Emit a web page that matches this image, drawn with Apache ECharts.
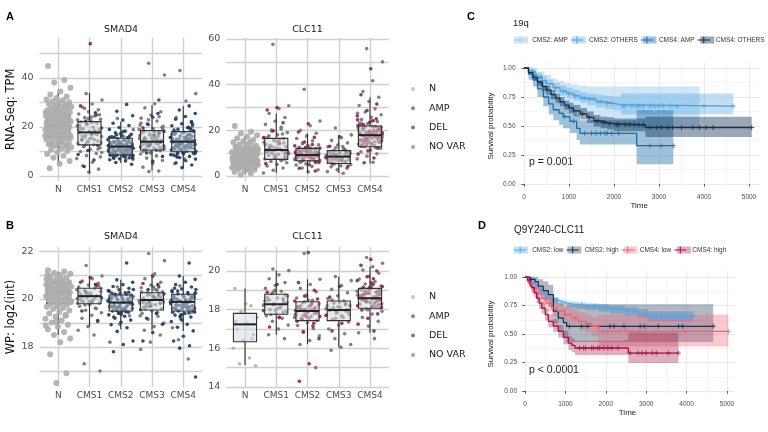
<!DOCTYPE html>
<html><head><meta charset="utf-8">
<script src="https://cdn.jsdelivr.net/npm/echarts@6/dist/echarts.min.js"></script>
<style>html,body{margin:0;padding:0;background:#fff}#c{width:768px;height:432px}</style>
</head><body><div id="c"></div>
<script>
// ---------- categories / labels ----------
const cats = ['N','CMS1','CMS2','CMS3','CMS4'];
const statusNames = ['N','AMP','DEL','NO VAR'];

// ---------- box stats [lower whisker, Q1, median, Q3, upper whisker] ----------
const boxA1 = [[5.3,16,20.5,25,35],[1.1,12.7,17.8,22.2,34],[5.3,8.6,12.0,15.4,22.2],[2.2,10.6,14.0,18.5,29],[3.2,9.9,14.0,18.1,28.6]];
const boxA2 = [[0.8,5.5,8.0,10.5,17.5],[1.3,7.3,11.4,16.5,27.4],[1.3,6.7,9.2,12.1,18.7],[1.3,5.5,8.5,11.1,18.0],[5.5,12.8,17.9,21.9,34.5]];
const boxB1 = [[18.5,19.8,20.3,20.7,21.14],[18.85,19.8,20.12,20.45,20.96],[18.74,19.5,19.85,20.17,20.8],[18.7,19.54,19.96,20.26,21.05],[18.67,19.5,19.88,20.2,20.96]];
const boxB2 = [[15.14,16.34,17.24,17.81,19.1],[16.69,17.76,18.28,18.8,20.02],[16.22,17.43,17.93,18.41,19.57],[16.05,17.43,17.98,18.45,19.71],[16.8,18.07,18.59,19.1,20.22]];

// ---------- A: SMAD4 RNA-Seq TPM points ----------
const aSmadN = [44.9,39.2,38.1,36.0,34.5,33.2,32.4,31.8,31.2,30.9,30.5,30.1,29.8,29.4,29.0,28.7,28.3,28.0,27.7,27.4,27.1,26.8,26.5,26.2,25.9,25.6,25.3,25.0,24.8,24.5,24.2,23.9,23.6,23.4,23.1,22.8,22.5,22.3,22.0,21.7,21.5,21.2,20.9,20.7,20.4,20.1,19.9,19.6,19.3,19.1,18.8,18.5,18.3,18.0,17.7,17.4,17.1,16.8,16.5,16.2,15.9,15.6,15.3,15.0,14.6,14.2,13.8,13.4,13.0,12.6,12.2,11.7,11.2,10.7,10.2,9.6,9.0,8.3,7.4,6.1,5.0,3.2,28.5,27.2,26.0,24.7,23.3,22.1,20.8,19.5,18.2,16.9,15.7,14.4,13.1,11.9,25.4,21.9,17.6,12.8,29.2,26.6,24.0,21.4,19.0,16.4,14.0,23.7,20.2,17.9];
const aSmadC1nv = [33.6,31.0,29.4,28.1,27.0,26.2,25.3,24.5,23.8,23.1,22.6,22.0,21.5,21.0,20.4,19.9,19.3,18.8,18.2,17.7,17.2,16.6,16.1,15.5,15.0,14.4,13.9,13.3,12.8,12.2,11.5,10.8,10.0,9.2,8.3,7.1,5.6,4.2,2.8,1.5,20.7,18.5,15.8,13.6,24.0,19.1,16.9,14.2,22.9,18.0,12.0,25.0,15.2,20.1,17.4,13.0,9.6,21.8,16.3,11.0,23.4,18.9,14.8,27.6,7.8];
const aSmadC1del = [25.8,22.3,19.6,17.0,14.7,12.5,10.4,8.8,6.5,3.9];
const aSmadC1amp = [54.0,28.6,24.9,21.2];
const aSmadC2del = [29.2,26.4,24.6,22.8,21.5,20.6,19.8,19.0,18.3,17.6,17.0,16.5,16.0,15.6,15.2,14.8,14.5,14.1,13.8,13.5,13.2,12.9,12.6,12.3,12.0,11.7,11.4,11.1,10.8,10.5,10.2,9.9,9.6,9.3,9.0,8.7,8.4,8.1,7.8,7.4,7.0,6.6,6.1,5.5,4.8,13.0,11.5,10.0,14.2,12.4,9.4,15.9,8.8,11.9,13.6,10.6,16.8,7.6,12.7,10.9,14.9,13.3,12.1,11.0,9.8,8.9,10.4,12.8,13.9,15.1,11.3,9.1,7.2,16.3,14.0,12.5,10.7,8.3,13.1,11.8,9.7,15.5,12.2,10.1,14.6,13.7,11.6,17.3,8.6,12.9,10.3,6.9,18.1,9.2,11.2,13.4,15.8,7.9,12.0,10.8];
const aSmadC2nv = [23.5,18.9,16.2,14.0,12.1,10.3,8.5,6.8];
const aSmadC3nv = [46.0,41.2,29.5,27.8,26.2,24.9,23.6,22.4,21.3,20.3,19.4,18.6,17.8,17.1,16.4,15.8,15.2,14.6,14.0,13.5,13.0,12.5,12.0,11.4,10.9,10.3,9.7,9.0,8.2,7.3,6.3,5.1,3.6,2.0,1.8,19.0,16.0,13.2,11.2,15.5,17.5,14.9,13.7,12.3,15.1,18.1,11.7,16.7,20.8,13.4,10.6,19.8,14.3,12.8,16.2,22.9,11.0,17.9,15.7,13.9,9.4,21.6,14.6,12.1,18.9,16.5,10.1,24.2,13.1,15.3];
const aSmadC3del = [25.5,21.0,18.2,16.7,15.0,13.8,12.8,11.8,10.6,9.4,8.0,6.0,14.3,17.4,12.2];
const aSmadC3amp = [24.0,19.7,31.0];
const aSmadC4del = [28.6,26.9,25.5,24.3,23.2,22.2,21.3,20.5,19.7,19.0,18.4,17.8,17.3,16.8,16.3,15.8,15.4,15.0,14.6,14.2,13.8,13.4,13.0,12.6,12.2,11.8,11.4,11.0,10.6,10.2,9.8,9.4,9.0,8.5,8.0,7.5,6.9,6.2,5.4,4.5,3.4,17.0,14.8,12.9,11.2,15.6,10.9,19.3,13.6,8.7,16.0,12.1,20.9,9.6,14.4,11.6,15.1,13.1,11.3,17.6,12.4,10.5,14.1,16.6,9.2,13.9,11.9,18.7,15.3,12.7,10.1,14.9,8.2,16.2,13.3,11.1,19.9,12.0,14.5,9.9,17.1,13.6,10.8,15.7,12.3,7.7,18.2,14.0,11.5,16.9,13.0,9.4,15.0,12.8,21.8,10.4];
const aSmadC4nv = [43.0,33.6,30.6,23.8,20.0,17.5,15.2,13.2,11.0,9.0,7.0,5.0,18.8];

// ---------- A: CLC11 RNA-Seq TPM points ----------
const aClcN = [21.9,19.4,18.6,17.9,17.2,16.5,15.9,15.3,14.8,14.3,13.8,13.4,13.0,12.6,12.2,11.9,11.6,11.3,11.0,10.7,10.4,10.1,9.9,9.6,9.4,9.1,8.9,8.7,8.4,8.2,8.0,7.8,7.6,7.4,7.2,7.0,6.8,6.6,6.4,6.2,6.0,5.8,5.6,5.4,5.2,5.0,4.8,4.6,4.3,4.0,3.7,3.4,3.1,2.7,2.3,1.8,1.2,0.6,12.4,10.9,9.7,8.6,7.5,6.5,5.5,4.4,11.6,9.2,7.9,6.9,5.9,4.9,13.6,10.3,8.1,6.1,3.8,14.9,9.0,7.1,5.3,8.4,6.7,10.6,7.7,2.9,12.0,4.1,9.5,6.3,8.8,7.3,9.8,6.6,10.1,5.7,8.3,7.0,11.2,4.7,9.3,6.0,12.8,7.9,5.1,10.5,8.6,3.5,11.8,6.9];
const aClcC1nv = [57.7,30.8,29.5,27.4,25.6,24.0,22.6,21.3,20.1,19.0,18.0,17.1,16.3,15.5,14.8,14.1,13.4,12.8,12.2,11.6,11.1,10.6,10.0,9.5,9.0,8.5,8.0,7.5,7.0,6.4,5.8,5.1,4.4,3.5,2.5,1.3,15.9,12.5,10.3,8.8,13.7,6.8,19.6,11.0,12.0,10.8,14.4,9.2,16.7,11.8,13.0,8.1,15.2,10.4,18.4,12.7,9.9,14.0,17.6,7.3,11.3,13.8,20.6,10.1];
const aClcC1amp = [30.0,28.9,23.3,19.8,16.8,14.5,12.0,9.8,7.7,5.4];
const aClcC2nv = [38.0,24.1,22.0,20.0,18.7,17.5,16.4,15.4,14.5,13.7,12.9,12.2,11.6,11.0,10.5,10.0,9.5,9.0,8.6,8.2,7.8,7.4,7.0,6.6,6.2,5.8,5.3,4.8,4.2,3.5,2.7,1.8,11.3,9.8,8.4,7.2,10.7,6.0,9.3,8.8,10.2,7.6,11.4,9.7,8.3,12.6,10.9,9.0,7.9,11.8,8.5,10.4,13.5,9.6,8.0,11.1,6.8,10.6,9.1,12.1,8.7,7.3,10.0,14.1,9.4,11.6,8.2,6.4];
const aClcC2amp = [22.9,19.3,16.9,14.9,13.2,11.9,10.8,9.9,9.2,8.4,7.6,6.8,5.9,4.9,3.4,2.2,12.5,10.2,8.0,9.6,8.7,10.5,11.4,7.9,9.0,12.2,8.3,10.0,6.4,11.0,9.4,13.8,7.1,8.9];
const aClcC3nv = [21.0,18.0,16.8,15.6,14.5,13.6,12.8,12.0,11.3,10.7,10.1,9.6,9.1,8.6,8.2,7.8,7.4,7.0,6.6,6.2,5.8,5.4,5.0,4.5,4.0,3.4,2.7,1.9,1.2,9.9,8.4,7.1,10.4,6.4,12.4,8.8,7.6,9.3,10.3,6.9,8.0,11.7,7.2,9.8,8.4,6.0,10.8,7.9,9.0,12.9,5.2,8.6,10.0,7.4,9.5];
const aClcC3amp = [17.2,13.0,11.0,9.4,8.0,6.8,5.6,4.2];
const aClcC4nv = [55.8,50.0,41.7,37.0,34.5,32.6,30.9,29.4,28.0,26.8,25.7,24.7,23.8,22.9,22.1,21.4,20.7,20.0,19.4,18.8,18.2,17.6,17.0,16.4,15.8,15.2,14.6,14.0,13.4,12.8,12.1,11.4,10.6,9.7,8.7,7.5,6.0,20.2,17.3,14.9,23.2,12.5,19.0,16.1,21.8,17.8,19.6,16.7,21.1,18.5,15.5,20.4,17.1,22.6,19.2,16.0,18.0,24.2,14.3,20.8,17.4,19.9,15.0,21.5,18.7,13.6,23.0,16.4,19.0,27.5];
const aClcC4amp = [47.0,35.6,31.5,28.7,26.3,24.2,22.5,21.0,19.7,18.5,17.4,16.3,15.3,14.3,13.3,12.2,11.0,9.6,7.9,5.8,20.4,17.9,15.7,25.0,13.8,18.9,18.1,20.9,16.8,19.3,22.0,17.2,15.1,21.3,18.6,13.0,20.0,16.0,24.6,19.8,17.6,14.7,23.5,18.3,21.7,16.5];

// ---------- B: SMAD4 WP log2(int) points ----------
const bSmadN = [21.2,21.15,21.1,21.05,21.0,20.95,20.9,20.86,20.82,20.78,20.74,20.7,20.66,20.62,20.58,20.55,20.52,20.49,20.46,20.43,20.4,20.37,20.34,20.31,20.28,20.25,20.22,20.19,20.16,20.13,20.1,20.07,20.04,20.01,19.98,19.95,19.92,19.88,19.84,19.8,19.76,19.72,19.68,19.63,19.58,19.52,19.46,19.4,19.33,19.26,19.18,19.1,19.02,18.93,18.84,18.74,18.62,18.5,18.35,18.2,17.7,16.9,16.5,20.6,20.45,20.3,20.15,20.0,20.85,20.5,20.2,19.9,20.7,20.35,20.05,19.7,21.0,20.55,20.25,19.95,20.65,20.38,19.3,19.05,18.9,20.8,20.42,20.12,19.86,20.58,20.28];
const bSmadC1nv = [21.4,20.96,20.85,20.75,20.66,20.58,20.5,20.43,20.37,20.31,20.25,20.19,20.13,20.07,20.01,19.95,19.89,19.83,19.77,19.7,19.62,19.53,19.43,19.32,19.2,19.05,18.85,18.7,18.5,17.3,17.0,20.2,20.0,19.6,20.2,20.4,19.95,20.1,20.55,19.88,20.3,20.05,19.75,20.45,20.15,19.92,20.62,20.25,19.82];
const bSmadC1del = [20.6,20.3,20.05,19.85,19.5,19.1];
const bSmadC1amp = [20.9,20.7,20.55];
const bSmadC2del = [21.5,20.8,20.7,20.6,20.52,20.45,20.38,20.32,20.26,20.2,20.15,20.1,20.05,20.0,19.96,19.92,19.88,19.84,19.8,19.76,19.72,19.68,19.64,19.6,19.55,19.5,19.45,19.4,19.34,19.28,19.2,19.12,19.03,18.93,18.8,18.65,18.25,18.1,17.8,19.9,19.7,20.03,19.58,20.12,19.82,19.48,20.24,19.94,19.66,20.35,19.86,19.74,20.08,19.62,19.95,20.18,19.52,19.78,20.02,19.69,20.28,19.43,19.9,19.57,20.14,19.81,19.36,20.05,19.73,19.98,20.4,19.6,19.25,19.88,20.22,19.66,19.47,20.1,19.76,19.93];
const bSmadC2nv = [20.5,20.1,19.85,19.6,19.3,18.95,18.2];
const bSmadC3nv = [21.9,21.6,21.05,20.85,20.7,20.58,20.47,20.37,20.28,20.2,20.12,20.04,19.97,19.9,19.83,19.76,19.68,19.6,19.5,19.4,19.28,19.15,19.0,18.85,18.7,18.5,18.2,17.9,20.0,19.8,20.3,20.1,19.85,20.24,19.7,19.93,20.4,19.58,20.06,19.78,20.3,19.45,20.16,19.88,20.5,19.65,19.98,20.2,19.3,20.02,19.75];
const bSmadC3del = [20.6,20.4,20.22,20.08,19.95,19.82,19.7,19.55,19.4,19.2,18.95,18.6,18.25,20.15,19.88];
const bSmadC3amp = [20.95,20.65,20.5];
const bSmadC4del = [21.5,20.96,20.82,20.7,20.6,20.5,20.42,20.34,20.27,20.2,20.14,20.08,20.02,19.97,19.92,19.87,19.82,19.77,19.72,19.67,19.62,19.57,19.52,19.46,19.4,19.33,19.25,19.16,19.06,18.95,18.82,18.67,18.45,18.25,18.05,17.95,16.75,19.95,19.75,20.1,19.6,20.3,19.85,19.5,20.05,19.7,20.45,19.9,19.3,19.8,19.64,20.0,19.55,20.16,19.9,19.42,19.73,20.25,19.85,19.6,20.07,19.35,19.96,19.7,20.33,19.52,19.82,20.12,19.67,19.27,20.4,19.88,19.58,20.03,19.78,19.45,20.19,19.93,19.62];
const bSmadC4nv = [20.55,20.25,19.98,19.72,19.45,19.1,18.8,17.5,18.3];

// ---------- B: CLC11 WP log2(int) points ----------
const bClcN = [19.1,18.2,17.9,17.6,17.3,17.0,16.7,16.4,16.0,15.5,15.2,15.1,18.3,17.4,16.5];
const bClcC1nv = [20.1,20.02,19.8,19.6,19.4,19.25,19.1,18.95,18.82,18.7,18.6,18.5,18.4,18.3,18.2,18.1,18.0,17.9,17.8,17.68,17.55,17.4,17.2,17.0,16.7,16.5,19.0,18.45,18.15,17.75,18.35,18.05,18.62,17.85,18.9,18.25,17.6,18.5,18.75,17.95];
const bClcC1amp = [19.3,18.9,18.55,18.25,17.95,17.6,17.1];
const bClcC2nv = [20.9,19.57,19.3,19.1,18.92,18.75,18.6,18.48,18.36,18.25,18.15,18.05,17.95,17.85,17.75,17.65,17.55,17.44,17.32,17.18,17.02,16.85,16.65,16.4,16.2,15.0,18.0,17.7,18.3,17.5,17.9,18.5,18.1,17.8,18.4,17.6,17.98,18.2,17.45,18.7,17.88,18.02,17.7,18.32,17.55,18.12,17.92];
const bClcC2amp = [20.95,19.4,19.0,18.7,18.45,18.22,18.02,17.82,17.62,17.4,17.15,16.85,16.5,15.2,14.3,18.1,17.7,17.95,18.3,17.5,18.55,17.85,18.15,17.3,18.0,17.65];
const bClcC3nv = [19.71,19.5,19.25,19.05,18.88,18.72,18.58,18.45,18.33,18.22,18.12,18.02,17.92,17.82,17.72,17.62,17.5,17.36,17.2,17.0,16.75,16.5,16.2,16.05,15.9,18.0,17.85,18.2,17.6,18.1,17.75,18.38,17.95,18.25,17.55,18.05,17.68,18.5,17.88,18.15];
const bClcC3amp = [19.2,18.65,18.3,17.95,17.7,17.3,16.9];
const bClcC4nv = [20.7,20.4,20.22,20.05,19.88,19.72,19.58,19.45,19.33,19.22,19.12,19.02,18.93,18.84,18.75,18.66,18.57,18.48,18.38,18.28,18.17,18.05,17.92,17.77,17.6,17.4,17.15,16.8,16.5,18.6,18.9,18.35,19.05,18.7,18.45,18.95,18.2,18.8,18.55,19.15,18.3,18.62,18.85,18.12,19.25,18.5,18.72,18.0];
const bClcC4amp = [20.6,20.3,20.0,19.7,19.5,19.32,19.16,19.0,18.86,18.72,18.58,18.44,18.3,18.15,17.98,17.78,17.55,17.25,16.9,18.8,18.5,19.1,18.65,18.9,18.4,19.2,18.55,18.75,18.25,19.05,18.6,18.35,18.95,18.1,19.4,18.7,18.45,18.85,18.2,19.6,18.52,18.78];

// ---------- C: 19q Kaplan-Meier (time, survival, CI low, CI high, censor times) ----------
const cNames = ['CMS2: AMP','CMS2: OTHERS','CMS4: AMP','CMS4: OTHERS'];
const c1T = [0,150,300,450,600,750,900,1050,1200,1400,1600,1800,2000,2400,3900];
const c1S = [1,.95,.90,.86,.82,.79,.76,.74,.72,.70,.68,.66,.645,.64,.64];
const c1L = [1,.89,.83,.78,.73,.69,.65,.62,.59,.56,.53,.51,.49,.48,.48];
const c1H = [1,1,.97,.94,.91,.89,.87,.86,.85,.84,.84,.84,.84,.84,.84];
const c1C = [1300,2050,2900,3900];
const c2T = [0,100,250,400,500,650,800,950,1100,1250,1400,1600,1800,2000,2150,4650];
const c2S = [1,.97,.93,.89,.865,.83,.80,.78,.76,.74,.73,.71,.695,.685,.672,.672];
const c2L = [1,.95,.90,.86,.83,.79,.76,.74,.72,.70,.68,.66,.645,.635,.60,.60];
const c2H = [1,.99,.96,.93,.90,.87,.85,.83,.81,.79,.78,.77,.76,.755,.78,.78];
const c2C = [700,880,1000,1150,1300,1350,1450,1550,1650,1720,1850,1950,2200,2250,2400,2500,2560,2650,2800,2900,3000,3100,3250,3400,4000,4650];
const c3T = [0,100,200,300,430,550,650,780,870,1020,1170,1244,2504,3318];
const c3S = [1,.95,.90,.82,.75,.69,.64,.61,.58,.54,.48,.437,.33,.33];
const c3L = [1,.90,.84,.75,.67,.60,.55,.51,.48,.44,.38,.34,.17,.17];
const c3H = [1,.99,.96,.89,.83,.78,.74,.71,.68,.64,.59,.55,.64,.64];
const c3C = [900,1100,1350,1500,1600,1700,1800,1850,1950,2100,2800,3050,3318];
const c4T = [0,100,200,300,400,500,600,700,800,900,1000,1100,1250,1400,1550,1700,1850,2000,2700,5060];
const c4S = [1,.96,.92,.88,.84,.81,.77,.74,.71,.68,.655,.63,.605,.575,.545,.53,.52,.51,.487,.487];
const c4L = [1,.94,.89,.85,.80,.77,.73,.70,.67,.64,.61,.585,.555,.525,.495,.48,.47,.455,.405,.405];
const c4H = [1,.98,.95,.92,.88,.85,.81,.78,.75,.72,.70,.68,.655,.625,.595,.58,.575,.565,.58,.58];
const c4C = [1300,1450,1600,1650,1750,1800,1900,2050,2100,2250,2350,2450,2550,2650,2800,2950,3050,3200,3300,3500,3750,3900,4050,4200,5060];

// ---------- D: Q9Y240-CLC11 Kaplan-Meier ----------
const dNames = ['CMS2: low','CMS2: high','CMS4: low','CMS4: high'];
const d1T = [0,80,160,250,330,420,500,580,660,750,850,950,1050,1155,1300,1500,1815,2100,2475,2800,3052,4166];
const d1S = [1,.975,.95,.925,.89,.865,.845,.82,.80,.79,.78,.77,.765,.757,.75,.74,.728,.715,.70,.68,.655,.655];
const d1L = [1,.96,.93,.90,.865,.84,.82,.795,.775,.765,.755,.745,.74,.73,.72,.71,.695,.68,.665,.64,.61,.61];
const d1H = [1,.99,.97,.95,.915,.89,.87,.845,.825,.815,.805,.795,.79,.785,.78,.77,.76,.75,.735,.72,.70,.70];
const d1C = [1300,1400,1550,1700,1900,2000,2200,2350,2550,2700,2900,3100,3250,3400,3550,3700,3850,4000,4166];
const d2T = [0,120,250,330,450,578,701,825,950,1031,4660];
const d2S = [1,.98,.96,.92,.88,.845,.70,.64,.60,.567,.567];
const d2L = [1,.94,.90,.84,.79,.74,.59,.52,.47,.43,.43];
const d2H = [1,1,1,.98,.96,.93,.82,.77,.74,.76,.76];
const d2C = [150,1100,1400,1550,2100,2200,2450,2850,2950,3300,3800,3900,4660];
const d3T = [0,80,165,290,412,530,660,800,990,1150,1320,1500,1650,1815,5033];
const d3S = [1,.95,.90,.86,.816,.77,.728,.70,.67,.64,.61,.59,.567,.523,.523];
const d3L = [1,.91,.85,.80,.75,.70,.66,.63,.59,.56,.53,.51,.48,.39,.39];
const d3H = [1,.99,.95,.92,.88,.84,.80,.77,.75,.72,.69,.67,.65,.67,.67];
const d3C = [620,1000,1250,1600,1900,1950,2050,2150,2250,2350,2500,2650,2800,3000,3200,3650,3950,5033];
const d4T = [0,60,120,165,230,289,350,412,500,578,700,825,950,1073,1160,1238,2475,2558,3795];
const d4S = [1,.97,.94,.91,.86,.816,.77,.728,.67,.61,.57,.523,.47,.42,.40,.377,.377,.333,.333];
const d4L = [1,.95,.91,.87,.82,.77,.72,.68,.62,.56,.52,.47,.41,.36,.34,.315,.315,.245,.245];
const d4H = [1,.99,.97,.95,.90,.86,.82,.78,.72,.67,.63,.58,.53,.48,.46,.44,.45,.51,.51];
const d4C = [1350,1450,1500,1650,1700,1800,1850,1950,2050,2150,2300,2600,2800,2900,3000,3150,3250,3550,3795];

const kmXTicks = [0,1000,2000,3000,4000,5000];
const kmXMinor = [500,1500,2500,3500,4500];
const kmYTicks = [0,0.25,0.5,0.75,1];
const kmYMinor = [0.125,0.375,0.625,0.875];

// ---------- styles ----------
const FA = 'DejaVu Sans', FC = 'Liberation Sans';
const ptColor = {'N':'#adadad','AMP':'#9c1d48','DEL':'#1d3b60','NO VAR':'#727272'};
const legColor = {'N':'#bdbdbd','AMP':'#a8677a','DEL':'#666e7e','NO VAR':'#999ca4'};
const cLine = ['#a6d2f0','#4aa0e0','#1b6ea8','#0f2d4d'];
const cBand = ['rgba(140,195,235,0.42)','rgba(74,160,224,0.35)','rgba(27,110,168,0.42)','rgba(15,45,77,0.42)'];
const dLine = ['#4da9ee','#1b2f4e','#ee6272','#a51240'];
const dBand = ['rgba(77,169,238,0.35)','rgba(40,62,95,0.36)','rgba(238,98,114,0.34)','rgba(165,18,64,0.34)'];
const plusSym = 'path://M4,0H6V4H10V6H6V10H4V6H0V4H4Z';
const legLine = 'path://M0,4.4H14V5.6H0Z M6.4,1H7.6V9H6.4Z';

const panelDefs = [
  {box:boxA1, y:[-2.04,56.5], lines:[0,10,20,30,40,50], labels:[0,20,40], nUnder:true, nSize:6, name:'RNA-Seq: TPM',
   pts:{'N':[[1,aSmadN]],'NO VAR':[[2,aSmadC1nv],[3,aSmadC2nv],[4,aSmadC3nv],[5,aSmadC4nv]],'DEL':[[2,aSmadC1del],[3,aSmadC2del],[4,aSmadC3del],[5,aSmadC4del]],'AMP':[[2,aSmadC1amp],[4,aSmadC3amp]]}},
  {box:boxA2, y:[-2.19,60.66], lines:[0,10,20,30,40,50,60], labels:[0,20,40,60], nUnder:true, nSize:6, name:'',
   pts:{'N':[[1,aClcN]],'NO VAR':[[2,aClcC1nv],[3,aClcC2nv],[4,aClcC3nv],[5,aClcC4nv]],'AMP':[[2,aClcC1amp],[3,aClcC2amp],[4,aClcC3amp],[5,aClcC4amp]]}},
  {box:boxB1, y:[16.33,22.17], lines:[17,18,19,20,21,22], labels:[18,20,22], nUnder:true, nSize:6, name:'WP: log2(int)',
   pts:{'N':[[1,bSmadN]],'NO VAR':[[2,bSmadC1nv],[3,bSmadC2nv],[4,bSmadC3nv],[5,bSmadC4nv]],'DEL':[[2,bSmadC1del],[3,bSmadC2del],[4,bSmadC3del],[5,bSmadC4del]],'AMP':[[2,bSmadC1amp],[4,bSmadC3amp]]}},
  {box:boxB2, y:[14.0,21.24], lines:[14,15,16,17,18,19,20,21], labels:[14,16,18,20], nUnder:false, nSize:3.5, name:'',
   pts:{'N':[[1,bClcN]],'NO VAR':[[2,bClcC1nv],[3,bClcC2nv],[4,bClcC3nv],[5,bClcC4nv]],'AMP':[[2,bClcC1amp],[3,bClcC2amp],[4,bClcC3amp],[5,bClcC4amp]]}}
];
const grids = [
  {left:39.5, top:37.5, width:162.5, height:143.5},
  {left:226.25, top:37.5, width:162.5, height:143.5},
  {left:39.5, top:247, width:162.5, height:140},
  {left:226.25, top:247, width:162.5, height:140},
  {left:518.6, top:62.2, width:241.2, height:127.6},
  {left:520, top:271.3, width:215, height:125.4}
];

function jitter(k, seed, w){ const f = (k*0.6180339887 + seed) % 1; return (f - 0.5) * w; }
function stepAt(T, S, t){ let v = S[0]; for (let i = 0; i < T.length; i++) if (T[i] <= t) v = S[i]; return v; }

function renderBox(params, api){
  const x = api.value(0);
  const lo = api.coord([x, api.value(1)]), q1 = api.coord([x, api.value(2)]), md = api.coord([x, api.value(3)]), q3 = api.coord([x, api.value(4)]), hi = api.coord([x, api.value(5)]);
  const hw = api.size([0.74, 0])[0] / 2;
  const st = {stroke:'#333333', lineWidth:1.1};
  return {type:'group', children:[
    {type:'line', shape:{x1:lo[0], y1:lo[1], x2:q1[0], y2:q1[1]}, style:st},
    {type:'line', shape:{x1:q3[0], y1:q3[1], x2:hi[0], y2:hi[1]}, style:st},
    {type:'rect', shape:{x:q3[0]-hw, y:q3[1], width:hw*2, height:q1[1]-q3[1]}, style:{fill:'rgba(212,218,224,0.5)', stroke:'#333333', lineWidth:1.1}},
    {type:'line', shape:{x1:md[0]-hw, y1:md[1], x2:md[0]+hw, y2:md[1]}, style:{stroke:'#222222', lineWidth:2}}
  ]};
}
function bandRender(color){
  return function(params, api){
    if (params.dataIndexInside !== 0) return;
    const n = params.dataInsideLength, up = [], dn = [];
    for (let i = 0; i < n; i++){
      const t0 = api.value(0, i), t1 = i < n-1 ? api.value(0, i+1) : t0;
      up.push(api.coord([t0, api.value(2, i)]), api.coord([t1, api.value(2, i)]));
      dn.push(api.coord([t0, api.value(1, i)]), api.coord([t1, api.value(1, i)]));
    }
    return {type:'polygon', shape:{points: up.concat(dn.reverse())}, style:{fill:color}};
  };
}

const series = [], xAxis = [], yAxis = [];
const axisTxt = {color:'#4d4d4d', fontFamily:FA};
panelDefs.forEach((p, pi) => {
  xAxis.push({type:'value', gridIndex:pi, min:0.4, max:5.6, axisLine:{show:false}, axisTick:{show:false, customValues:[1,2,3,4,5]},
    splitLine:{show:true, lineStyle:{color:'#d0d0d0', width:1.4}},
    axisLabel:Object.assign({customValues:[1,2,3,4,5], formatter:v => cats[Math.round(v)-1], fontSize:9, margin:4}, axisTxt)});
  yAxis.push({type:'value', gridIndex:pi, min:p.y[0], max:p.y[1], name:p.name, nameLocation:'middle', nameGap:21,
    nameTextStyle:{fontFamily:FA, fontSize:11.5, color:'#111'},
    axisLine:{show:false}, axisTick:{show:false, customValues:p.lines},
    splitLine:{show:true, lineStyle:{color:'#d0d0d0', width:1.4}},
    axisLabel:Object.assign({customValues:p.labels, fontSize:9.5, margin:6}, axisTxt)});
  const boxData = p.box.map((b, i) => [i+1].concat(b));
  series.push({type:'custom', xAxisIndex:pi, yAxisIndex:pi, z:1, silent:true, renderItem:renderBox, encode:{x:0, y:[1,2,3,4,5]}, data: p.nUnder ? boxData.slice(0,1) : []});
  const seeds = {'N':0.11,'NO VAR':0.37,'DEL':0.73,'AMP':0.53};
  ['N','NO VAR','DEL','AMP'].forEach(st => {
    const data = [];
    (p.pts[st] || []).forEach(([x, arr]) => arr.forEach((v, k) => data.push([x + jitter(k, seeds[st], x === 1 ? 0.84 : 0.82), v])));
    series.push({type:'scatter', name:st, xAxisIndex:pi, yAxisIndex:pi, data, symbolSize: st === 'N' ? p.nSize : 3.6,
      itemStyle:{color:ptColor[st], opacity:0.9}, z:2, silent:true});
  });
  series.push({type:'custom', xAxisIndex:pi, yAxisIndex:pi, z:3, silent:true, renderItem:renderBox, encode:{x:0, y:[1,2,3,4,5]}, data: p.nUnder ? boxData.slice(1) : boxData});
});

// KM axes: main (labels/ticks/major grid) + minor (minor grid only)
function kmAxes(gi, xmin, xmax, nameGapY){
  const lbl = {color:'#4d4d4d', fontFamily:FC, fontSize:6.5};
  xAxis.push({type:'value', gridIndex:gi, min:xmin, max:xmax, name:'Time', nameLocation:'middle', nameGap:12,
    nameTextStyle:{fontFamily:FC, fontSize:8, color:'#222'}, axisLine:{show:false},
    axisTick:{show:true, length:2.5, customValues:kmXTicks, lineStyle:{color:'#333', width:0.8}},
    splitLine:{show:true, lineStyle:{color:'#e4e4e4', width:0.8}},
    axisLabel:Object.assign({customValues:kmXTicks, formatter:v => String(Math.round(v)), margin:4}, lbl)});
  xAxis.push({type:'value', gridIndex:gi, min:xmin, max:xmax, axisLine:{show:false}, axisLabel:{show:false},
    axisTick:{show:false, customValues:kmXMinor}, splitLine:{show:true, lineStyle:{color:'#f0f0f0', width:0.6}}});
  yAxis.push({type:'value', gridIndex:gi, min:-0.05, max:1.05, name:'Survival probability', nameLocation:'middle', nameGap:nameGapY,
    nameTextStyle:{fontFamily:FC, fontSize:8, color:'#222'}, axisLine:{show:false},
    axisTick:{show:true, length:2.5, customValues:kmYTicks, lineStyle:{color:'#333', width:0.8}},
    splitLine:{show:true, lineStyle:{color:'#e4e4e4', width:0.8}},
    axisLabel:Object.assign({customValues:kmYTicks, formatter:v => v.toFixed(2), margin:3}, lbl)});
  yAxis.push({type:'value', gridIndex:gi, min:-0.05, max:1.05, axisLine:{show:false}, axisLabel:{show:false},
    axisTick:{show:false, customValues:kmYMinor}, splitLine:{show:true, lineStyle:{color:'#f0f0f0', width:0.6}}});
}
kmAxes(4, -120, 5240, 24);
kmAxes(5, -124, 5198, 25);

function addKM(ax, names, curves, lines, bands){
  curves.forEach((c, i) => {
    series.push({type:'custom', name:names[i] + '\u200b', xAxisIndex:ax, yAxisIndex:ax, z:1, silent:true,
      renderItem:bandRender(bands[i]), encode:{x:0, y:[1,2]}, data:c[0].map((t, k) => [t, c[2][k], c[3][k]])});
  });
  curves.forEach((c, i) => {
    series.push({type:'line', name:names[i], xAxisIndex:ax, yAxisIndex:ax, z:3, silent:true, step:'end', showSymbol:false, symbol:'none',
      data:c[0].map((t, k) => [t, c[1][k]]), lineStyle:{color:lines[i], width:1.3}, itemStyle:{color:lines[i]}});
  });
  curves.forEach((c, i) => {
    series.push({type:'scatter', name:names[i], xAxisIndex:ax, yAxisIndex:ax, z:4, silent:true, symbol:plusSym, symbolSize:5,
      data:c[4].map(t => [t, stepAt(c[0], c[1], t)]), itemStyle:{color:lines[i]}});
  });
}
addKM(4, cNames, [[c1T,c1S,c1L,c1H,c1C],[c2T,c2S,c2L,c2H,c2C],[c3T,c3S,c3L,c3H,c3C],[c4T,c4S,c4L,c4H,c4C]], cLine, cBand);
addKM(6, dNames, [[d1T,d1S,d1L,d1H,d1C],[d2T,d2S,d2L,d2H,d2C],[d3T,d3S,d3L,d3H,d3C],[d4T,d4S,d4L,d4H,d4C]], dLine, dBand);

function statusLegend(top){
  return {left:411, top, orient:'vertical', padding:0, icon:'circle', itemWidth:12, itemHeight:4, itemGap:7.3, selectedMode:false,
    textStyle:{fontFamily:FA, fontSize:9.5, color:'#1a1a1a', lineHeight:12, padding:[0,0,0,5]},
    data: statusNames.map(n => ({name:n, itemStyle:{color:legColor[n]}}))};
}
function kmLegends(top, names, lines, bands){
  const base = {left:514, top, width:300, orient:'horizontal', padding:0, itemWidth:14, itemHeight:7, itemGap:3, selectedMode:false};
  return [
    Object.assign({}, base, {icon:'rect', formatter:n => n.replace('\u200b',''),
      textStyle:{fontFamily:FC, fontSize:6.5, color:'rgba(0,0,0,0)'},
      data:names.map((n, i) => ({name:n + '\u200b', itemStyle:{color:bands[i]}}))}),
    Object.assign({}, base, {icon:legLine,
      textStyle:{fontFamily:FC, fontSize:6.5, color:'#333'},
      data:names.map((n, i) => ({name:n, itemStyle:{color:lines[i]}}))})
  ];
}

function txt(text, x, y, size, font, opts){
  return {type:'text', x, y, silent:true, style:Object.assign({text, fontSize:size, fontFamily:font, fill:'#1a1a1a', align:'left', verticalAlign:'middle'}, opts || {})};
}

const option = {
  animation:false,
  backgroundColor:'#ffffff',
  grid:grids,
  xAxis, yAxis, series,
  legend:[statusLegend(83), statusLegend(291)].concat(kmLegends(36.5, cNames, cLine, cBand), kmLegends(246.5, dNames, dLine, dBand)),
  graphic:[
    txt('A', 6, 17, 11, FC, {fontWeight:'bold', fill:'#000'}),
    txt('B', 6, 226, 11, FC, {fontWeight:'bold', fill:'#000'}),
    txt('C', 467, 16.5, 11, FC, {fontWeight:'bold', fill:'#000'}),
    txt('D', 478, 225.5, 11, FC, {fontWeight:'bold', fill:'#000'}),
    txt('SMAD4', 121, 29.5, 9.5, FA, {align:'center'}),
    txt('CLC11', 307.5, 29.5, 9.5, FA, {align:'center'}),
    txt('SMAD4', 121, 237, 9.5, FA, {align:'center'}),
    txt('CLC11', 307.5, 237, 9.5, FA, {align:'center'}),
    txt('19q', 513, 23, 9.5, FC),
    txt('Q9Y240-CLC11', 514, 230, 10, FC),
    txt('p = 0.001', 529, 162.5, 10.5, FC),
    txt('p < 0.0001', 529, 370, 10.5, FC)
  ]
};
const chart = echarts.init(document.getElementById('c'), null, {renderer:'canvas'});
chart.setOption(option);
</script></body></html>
